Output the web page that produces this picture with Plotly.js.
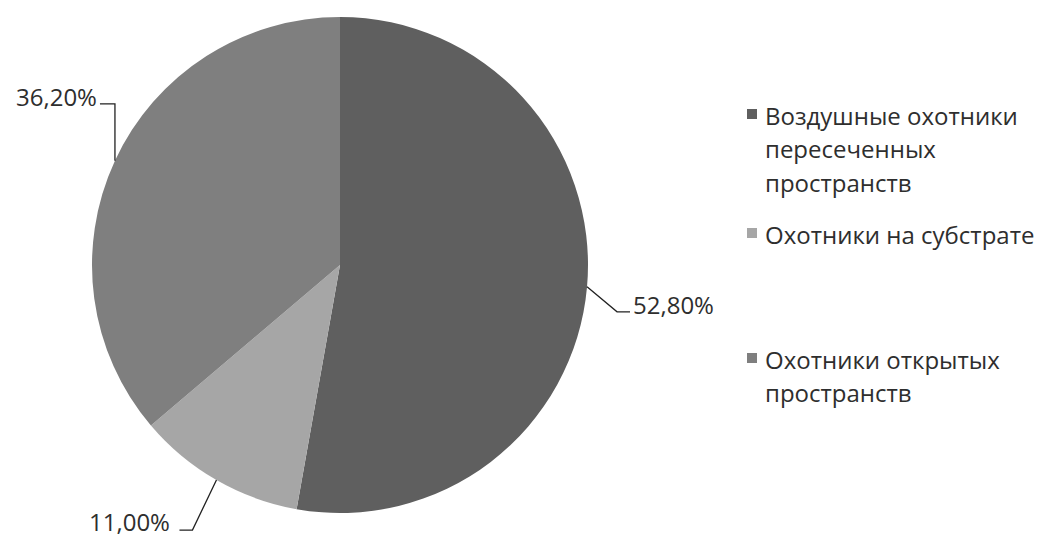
<!DOCTYPE html>
<html>
<head>
<meta charset="utf-8">
<script src="https://cdn.plot.ly/plotly-3.0.1.min.js"></script>
<style>html,body{margin:0;padding:0;background:#fff;}#chart{width:1040px;height:539px;}</style>
</head>
<body>
<div id="chart"></div>
<script>
// ---- data ----
const labelLines = [
  ["Воздушные охотники", "пересеченных", "пространств"],
  ["Охотники на субстрате"],
  ["Охотники открытых", "пространств"]
];
const labels = labelLines.map(l => l.join(" "));
const values = [52.8, 11.0, 36.2];
const colors = ["#5f5f5f", "#a6a6a6", "#7f7f7f"];

// ---- geometry (pixels) ----
const W = 1040, H = 539;
const cx = 340, cy = 265, R = 248;
const FONT = "Open Sans, DejaVu Sans, sans-serif";
const TEXT_COLOR = "#2e2e2e";
const FS = 24;

const px = x => x / W;
const py = y => 1 - y / H;

// leader line layout for each data label (offsets from rim point)
const leaders = [
  {ex: 30, ey: 25, hx: 13, side: "left", pad: 2, dy: 7},
  {ex: -24, ey: 50, hx: -13, side: "right", pad: 8, dy: 9},
  {ex: 0, ey: -57, hx: -15, side: "right", pad: 2, dy: 7}
];

const total = values.reduce((a, b) => a + b, 0);
const shapes = [];
const annotations = [];
let acc = 0;
values.forEach((v, i) => {
  const mid = (acc + v / 2) / total * 2 * Math.PI; // clockwise from 12 o'clock
  acc += v;
  const rx = cx + R * Math.sin(mid);
  const ry = cy - R * Math.cos(mid);
  const L = leaders[i];
  const ex = rx + L.ex, ey = ry + L.ey;
  const hx = ex + L.hx;
  shapes.push({
    type: "path", xref: "paper", yref: "paper",
    path: `M ${px(rx)} ${py(ry)} L ${px(ex)} ${py(ey)} L ${px(hx)} ${py(ey)}`,
    line: {color: "#222222", width: 1.3}
  });
  annotations.push({
    xref: "paper", yref: "paper",
    x: px(hx + (L.side === "left" ? L.pad : -L.pad)), y: py(ey - L.dy),
    xanchor: L.side, yanchor: "middle",
    text: v.toFixed(2).replace(".", ",") + "%",
    showarrow: false, borderpad: 0,
    font: {family: FONT, size: FS, color: TEXT_COLOR}
  });
});

// manual legend (Excel-like spacing)
const legendX = 747, legendTextX = 763, sq = 10, lineGap = 33.5;
const legendTop = [115, 234, 359];
labelLines.forEach((lines, i) => {
  const y0 = legendTop[i];
  shapes.push({
    type: "rect", xref: "paper", yref: "paper",
    x0: px(legendX), x1: px(legendX + sq),
    y0: py(y0 - 1 + sq / 2), y1: py(y0 - 1 - sq / 2),
    fillcolor: colors[i], line: {width: 0}
  });
  lines.forEach((t, k) => {
    annotations.push({
      xref: "paper", yref: "paper",
      x: px(legendTextX), y: py(y0 + k * lineGap),
      xanchor: "left", yanchor: "middle",
      text: t, showarrow: false,
      font: {family: FONT, size: FS, color: TEXT_COLOR}
    });
  });
});

const trace = {
  type: "pie",
  labels: labels,
  values: values,
  sort: false,
  direction: "clockwise",
  rotation: 0,
  textinfo: "none",
  hoverinfo: "label+percent",
  marker: {colors: colors, line: {width: 0}},
  domain: {x: [px(cx - R), px(cx + R)], y: [py(cy + R), py(cy - R)]},
  showlegend: false
};

const layout = {
  width: W, height: H,
  margin: {l: 0, r: 0, t: 0, b: 0},
  paper_bgcolor: "#ffffff",
  plot_bgcolor: "#ffffff",
  showlegend: false,
  font: {family: FONT, size: FS, color: TEXT_COLOR},
  shapes: shapes,
  annotations: annotations
};

Plotly.newPlot("chart", [trace], layout, {displayModeBar: false, staticPlot: true});
</script>
</body>
</html>
